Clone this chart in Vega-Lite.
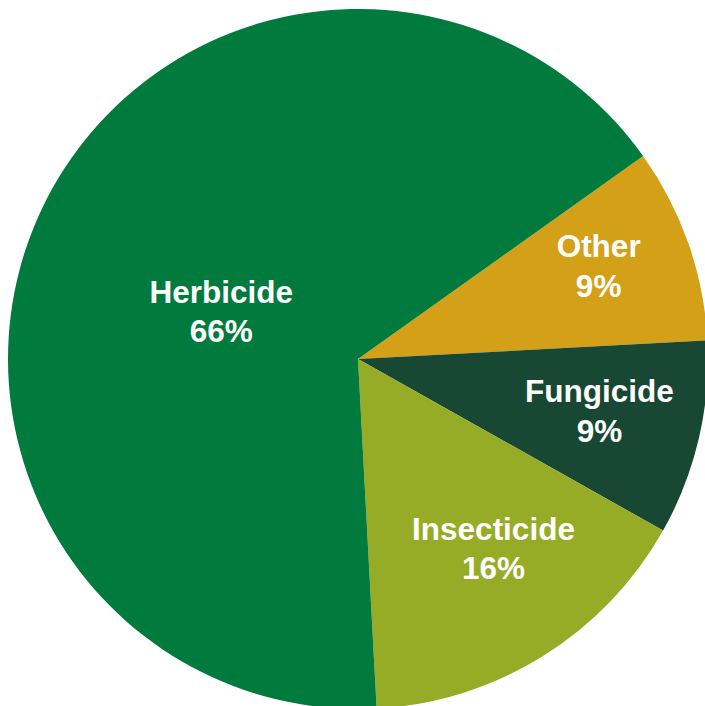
{
  "$schema": "https://vega.github.io/schema/vega-lite/v6.json",
  "width": 694,
  "height": 694,
  "autosize": {"type": "none"},
  "padding": {"left": 11, "top": 12, "right": 0, "bottom": 0},
  "background": "white",
  "config": {"view": {"stroke": null}},
  "data": {
    "values": [
      {"category": "Other", "share": 9},
      {"category": "Fungicide", "share": 9},
      {"category": "Insecticide", "share": 16},
      {"category": "Herbicide", "share": 66}
    ]
  },
  "transform": [
    {"window": [{"op": "row_number", "as": "slice"}]},
    {"calculate": "[datum.category, datum.share + '%']", "as": "label"}
  ],
  "encoding": {
    "theta": {
      "field": "share",
      "type": "quantitative",
      "stack": true,
      "scale": {"range": [0.95207, 7.23526]}
    },
    "order": {"field": "slice", "type": "quantitative", "sort": "ascending"},
    "detail": {"field": "category", "type": "nominal"}
  },
  "layer": [
    {
      "mark": {"type": "arc", "outerRadius": 350},
      "encoding": {
        "color": {
          "field": "category",
          "type": "nominal",
          "scale": {
            "domain": ["Herbicide", "Other", "Fungicide", "Insecticide"],
            "range": ["#007A3D", "#D4A017", "#184733", "#97AC26"]
          },
          "legend": null
        }
      }
    },
    {
      "mark": {
        "type": "text",
        "font": "Liberation Sans",
        "fontWeight": "bold",
        "fontSize": 31.5,
        "lineHeight": 39.5,
        "fill": "white",
        "align": "center",
        "baseline": "middle",
        "radius": {"expr": "{'Herbicide': 143, 'Other': 257, 'Fungicide': 248, 'Insecticide': 234}[datum.category]"},
        "dx": {"expr": "{'Herbicide': -8, 'Other': -2, 'Fungicide': 0, 'Insecticide': 12}[datum.category]"},
        "dy": {"expr": "{'Herbicide': -3, 'Other': -26, 'Fungicide': -22, 'Insecticide': -27}[datum.category]"}
      },
      "encoding": {
        "text": {"field": "label", "type": "nominal"}
      }
    }
  ]
}
